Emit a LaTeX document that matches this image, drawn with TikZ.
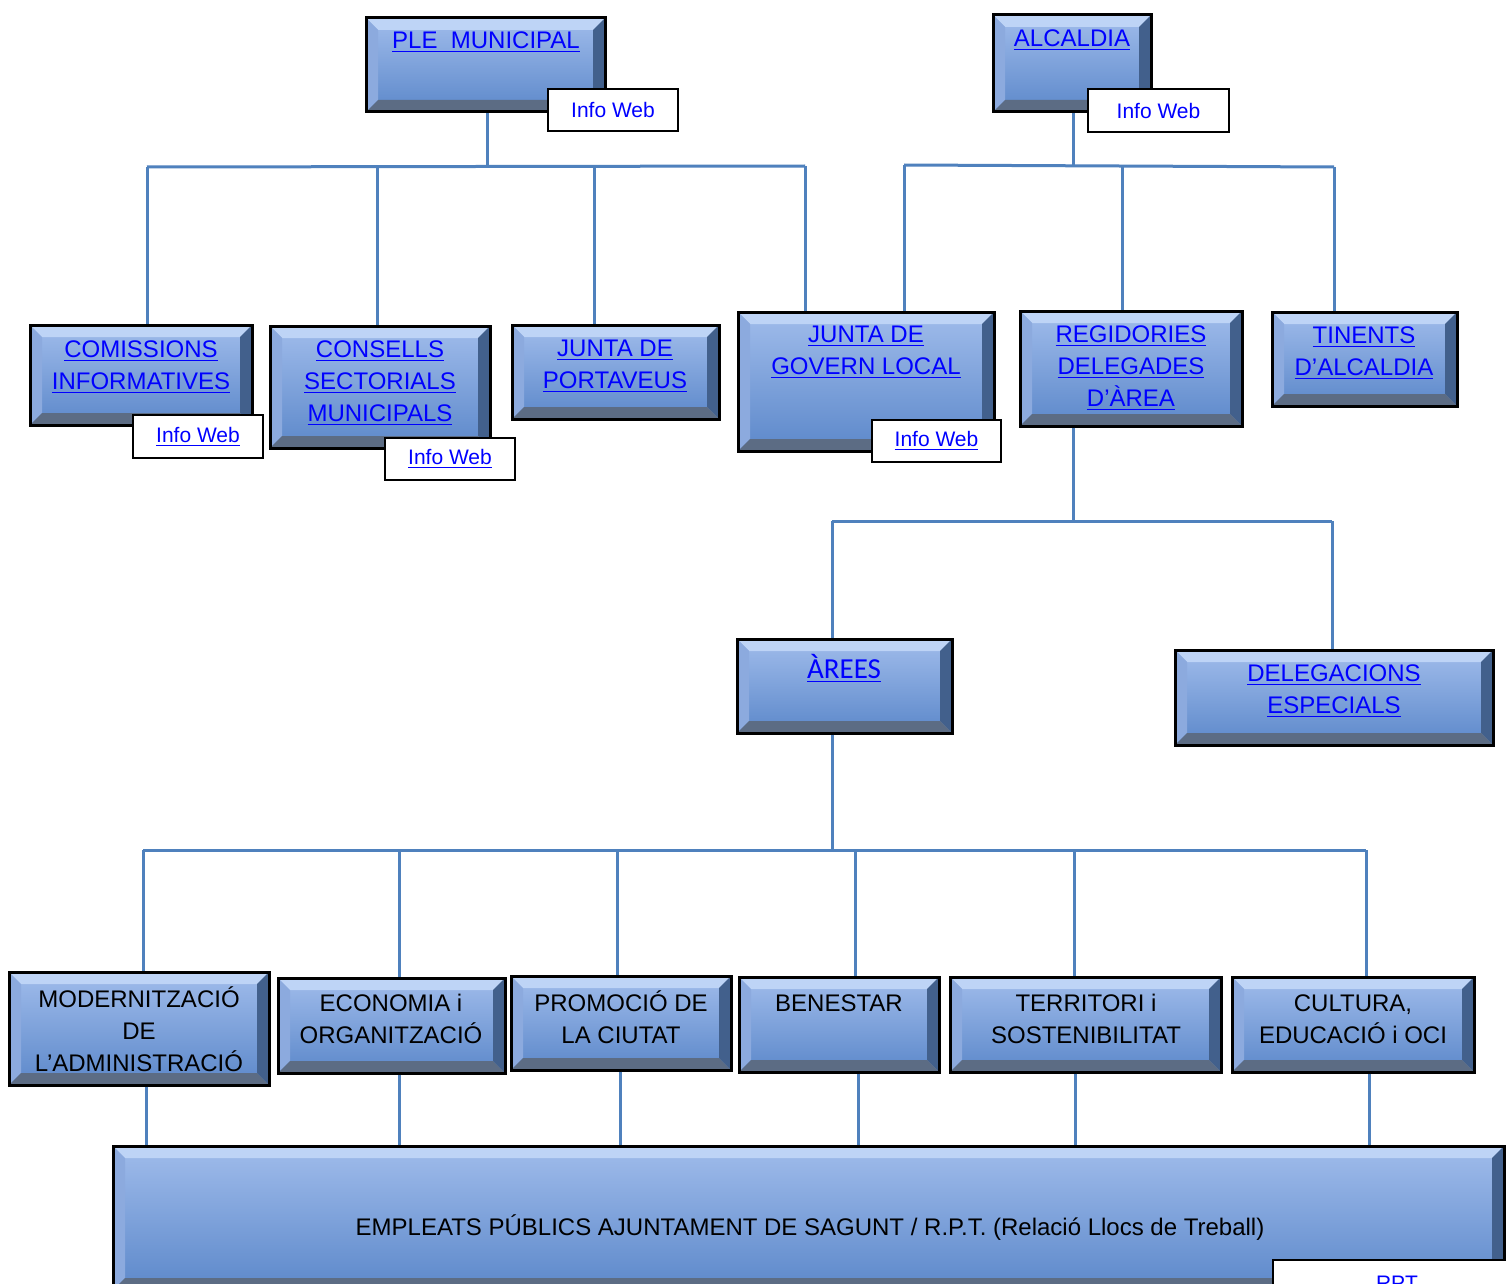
\documentclass[tikz,border=0pt]{standalone}
\usepackage{fontspec}
\setmainfont{Liberation Sans}
\newfontfamily\carlfont{Carlito}
\usetikzlibrary{fit}
\definecolor{lnk}{RGB}{0,0,255}
\definecolor{cncol}{RGB}{79,129,189}
\definecolor{bxtop}{RGB}{160,188,235}
\definecolor{bxbot}{RGB}{92,136,202}
\definecolor{bvT}{RGB}{190,212,246}
\definecolor{bvL}{RGB}{140,170,222}
\definecolor{bvR}{RGB}{66,96,140}
\definecolor{bvB}{RGB}{92,108,132}
\newcommand\lnkU[1]{\underline{#1}}
\begin{document}
\begin{tikzpicture}[x=0.5pt,y=-0.5pt,
  box/.style={draw=black, line width=1.5pt, inner sep=0pt, top color=bxtop, bottom color=bxbot,
    path picture={
      \fill[bvT] (path picture bounding box.north west) -- (path picture bounding box.north east)
        -- ([xshift=-6pt,yshift=-6pt]path picture bounding box.north east)
        -- ([xshift=6pt,yshift=-6pt]path picture bounding box.north west) -- cycle;
      \fill[bvL] (path picture bounding box.north west) -- (path picture bounding box.south west)
        -- ([xshift=6pt,yshift=6pt]path picture bounding box.south west)
        -- ([xshift=6pt,yshift=-6pt]path picture bounding box.north west) -- cycle;
      \fill[bvR] (path picture bounding box.north east) -- (path picture bounding box.south east)
        -- ([xshift=-6pt,yshift=6pt]path picture bounding box.south east)
        -- ([xshift=-6pt,yshift=-6pt]path picture bounding box.north east) -- cycle;
      \fill[bvB] (path picture bounding box.south west) -- (path picture bounding box.south east)
        -- ([xshift=-6pt,yshift=6pt]path picture bounding box.south east)
        -- ([xshift=6pt,yshift=6pt]path picture bounding box.south west) -- cycle;
    }},
  info/.style={draw=black, line width=0.8pt, fill=white, inner sep=0pt},
  lt/.style={text=lnk, align=center, font=\fontsize{12}{16}\selectfont, inner sep=0pt},
  bt/.style={text=black, align=center, font=\fontsize{12}{16}\selectfont, inner sep=0pt},
  it/.style={text=lnk, font=\fontsize{10.5}{13}\selectfont, inner sep=0pt},
  cn/.style={draw=cncol, line width=1.5pt}]
\useasboundingbox (0,0) rectangle (1506,1284);
\clip (0,0) rectangle (1506,1284);
\fill[white] (0,0) rectangle (1506,1284);

% ---------- boxes ----------
\node[box, fit={(366,18) (605,112)}] (ple) {};
\node[box, fit={(993,15) (1151,112)}] (alc) {};
\node[box, fit={(30,325) (252,425)}] (com) {};
\node[box, fit={(270,326) (490,448)}] (con) {};
\node[box, fit={(512,325) (719,419)}] (por) {};
\node[box, fit={(738,312) (994,451)}] (jgl) {};
\node[box, fit={(1020,311) (1242,426)}] (reg) {};
\node[box, fit={(1272,312) (1457,406)}] (tin) {};
\node[box, fit={(737,639) (952,733)}] (are) {};
\node[box, fit={(1175,650) (1493,745)}] (del) {};
\node[box, fit={(9,972) (269,1085)}] (mod) {};
\node[box, fit={(278,978) (505,1073)}] (eco) {};
\node[box, fit={(511,976) (731,1070)}] (pro) {};
\node[box, fit={(739,977) (939,1072)}] (ben) {};
\node[box, fit={(950,977) (1221,1072)}] (ter) {};
\node[box, fit={(1232,977) (1474,1072)}] (cul) {};
\node[box, fit={(113,1146) (1504,1290)}] (emp) {};

% ---------- connectors ----------
\coordinate (pj) at (487,167);
\coordinate (pl) at (147,167);
\coordinate (p2) at (377,167);
\coordinate (p3) at (594,167);
\coordinate (pr) at (805,166);
\draw[cn] (ple.south -| pj) -- (pj);
\draw[cn] (pl) -- (pr);
\draw[cn] (pl) -- (pl |- com.north);
\draw[cn] (p2) -- (p2 |- con.north);
\draw[cn] (p3) -- (p3 |- por.north);
\draw[cn] (pr) -- (pr |- jgl.north);

\coordinate (aj) at (1073,165);
\coordinate (al) at (904,165);
\coordinate (a2) at (1122,166);
\coordinate (ar) at (1334,167);
\draw[cn] (alc.south -| aj) -- (aj);
\draw[cn] (al) -- (ar);
\draw[cn] (al) -- (al |- jgl.north);
\draw[cn] (a2) -- (a2 |- reg.north);
\draw[cn] (ar) -- (ar |- tin.north);

\coordinate (rj) at (1073,521);
\coordinate (rl) at (832,521);
\coordinate (rr) at (1332,521);
\draw[cn] (reg.south -| rj) -- (rj);
\draw[cn] (rl) -- (rr);
\draw[cn] (rl) -- (rl |- are.north);
\draw[cn] (rr) -- (rr |- del.north);

\coordinate (ej) at (832,850);
\coordinate (e1) at (143,850);
\coordinate (e2) at (399,850);
\coordinate (e3) at (617,850);
\coordinate (e4) at (855,850);
\coordinate (e5) at (1074,850);
\coordinate (e6) at (1366,850);
\draw[cn] (are.south -| ej) -- (ej);
\draw[cn] (e1) -- (e6);
\draw[cn] (e1) -- (e1 |- mod.north);
\draw[cn] (e2) -- (e2 |- eco.north);
\draw[cn] (e3) -- (e3 |- pro.north);
\draw[cn] (e4) -- (e4 |- ben.north);
\draw[cn] (e5) -- (e5 |- ter.north);
\draw[cn] (e6) -- (e6 |- cul.north);

\coordinate (d1) at (146,0);
\coordinate (d2) at (399,0);
\coordinate (d3) at (620,0);
\coordinate (d4) at (858,0);
\coordinate (d5) at (1075,0);
\coordinate (d6) at (1369,0);
\draw[cn] (d1 |- mod.south) -- (d1 |- emp.north);
\draw[cn] (d2 |- eco.south) -- (d2 |- emp.north);
\draw[cn] (d3 |- pro.south) -- (d3 |- emp.north);
\draw[cn] (d4 |- ben.south) -- (d4 |- emp.north);
\draw[cn] (d5 |- ter.south) -- (d5 |- emp.north);
\draw[cn] (d6 |- cul.south) -- (d6 |- emp.north);

% ---------- texts ----------
\node[lt] (pleT) at (486,42) {\lnkU{PLE\ \ MUNICIPAL}};
\node[lt] (alcT) at (1072,40) {\lnkU{ALCALDIA}};
\node[lt] (comT) at (141,367) {\lnkU{COMISSIONS}\\\lnkU{INFORMATIVES}};
\node[lt] (conT) at (380,383) {\lnkU{CONSELLS}\\\lnkU{SECTORIALS}\\\lnkU{MUNICIPALS}};
\node[lt] (porT) at (615,366) {\lnkU{JUNTA DE}\\\lnkU{PORTAVEUS}};
\node[lt] (jglT) at (866,352) {\lnkU{JUNTA DE}\\\lnkU{GOVERN LOCAL}};
\node[lt] (regT) at (1131,368) {\lnkU{REGIDORIES}\\\lnkU{DELEGADES}\\\lnkU{D’ÀREA}};
\node[lt] (tinT) at (1364,353) {\lnkU{TINENTS}\\\lnkU{D’ALCALDIA}};
\node[lt, font=\carlfont\fontsize{14.5}{17}\selectfont] (areT) at (844,668) {\lnkU{ÀREES}};
\node[lt] (delT) at (1334,691) {\lnkU{DELEGACIONS}\\\lnkU{ESPECIALS}};
\node[bt] (modT) at (139,1029) {MODERNITZACIÓ\\DE\\L’ADMINISTRACIÓ};
\node[bt] (ecoT) at (391,1019) {ECONOMIA i\\ORGANITZACIÓ};
\node[bt] (proT) at (621,1017) {PROMOCIÓ DE\\LA CIUTAT};
\node[bt] (benT) at (839,1003) {BENESTAR};
\node[bt] (terT) at (1086,1019) {TERRITORI i\\SOSTENIBILITAT};
\node[bt] (culT) at (1353,1019) {CULTURA,\\EDUCACIÓ i OCI};
\node[bt] (empT) at (810,1228) {EMPLEATS PÚBLICS AJUNTAMENT DE SAGUNT / R.P.T. (Relació Llocs de Treball)};

% ---------- info web boxes ----------
\node[info, fit={(548,89) (678,131)}] (pleI) {};
\node[it] (pleIT) at (pleI.center) {Info Web};
\node[info, fit={(1088,89) (1229,132)}] (alcI) {};
\node[it] (alcIT) at (alcI.center) {Info Web};
\node[info, fit={(133,415) (263,458)}] (comI) {};
\node[it] (comIT) at (comI.center) {\lnkU{Info Web}};
\node[info, fit={(385,438) (515,480)}] (conI) {};
\node[it] (conIT) at (conI.center) {\lnkU{Info Web}};
\node[info, fit={(872,420) (1001,462)}] (jglI) {};
\node[it] (jglIT) at (jglI.center) {\lnkU{Info Web}};
\node[info, fit={(1273,1260) (1530,1320)}] (empI) {};
\node[it, anchor=base] (empIT) at (1397,1290) {\lnkU{RPT}};
\end{tikzpicture}
\end{document}
